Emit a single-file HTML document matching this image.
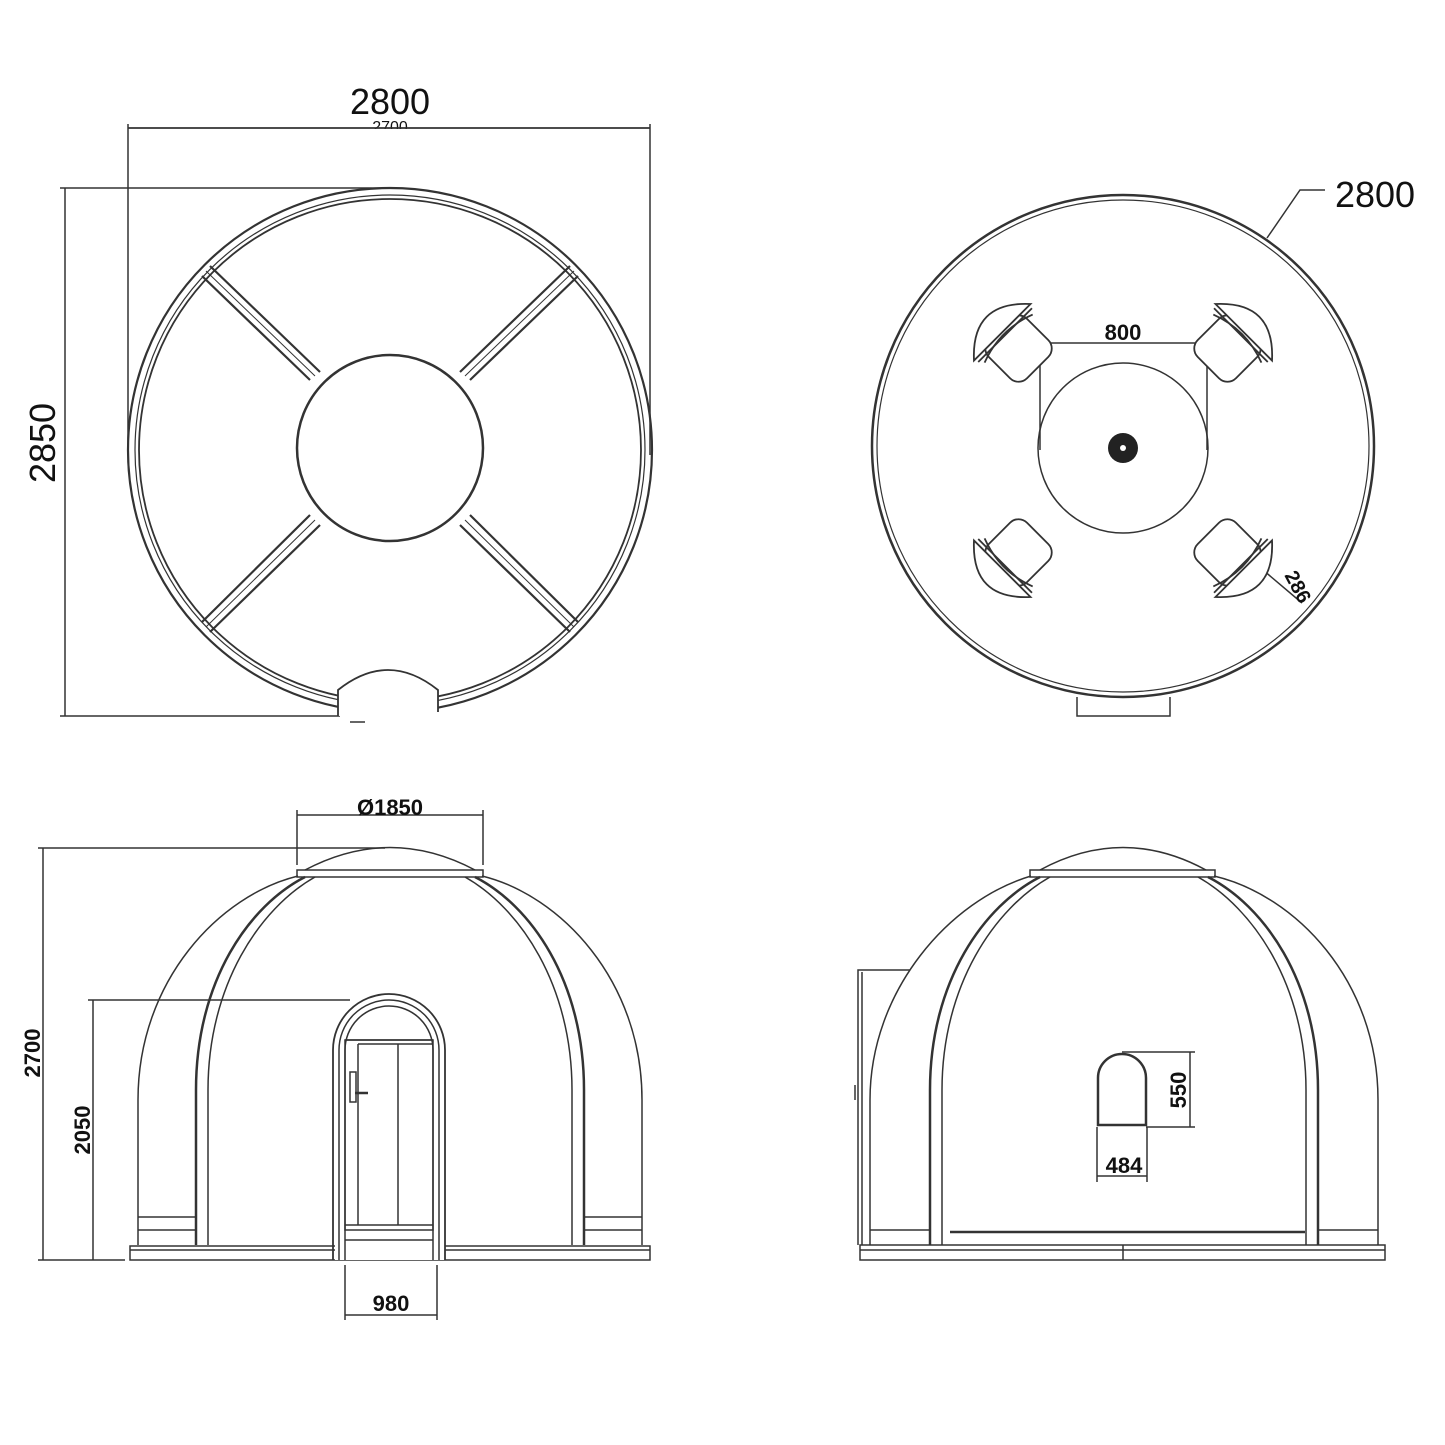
<!DOCTYPE html>
<html><head><meta charset="utf-8"><style>
html,body{margin:0;padding:0;background:#fff}
svg{display:block}
text{font-family:"Liberation Sans",sans-serif;fill:#111}
</style></head><body>
<svg width="1445" height="1445" viewBox="0 0 1445 1445" xmlns="http://www.w3.org/2000/svg">
<defs>
<g id="chair" fill="#fff" stroke="#333" stroke-width="1.8">
<rect x="-27" y="-22" width="54" height="54" rx="12"/>
<path d="M-40,-18 Q0,-62 40,-18 Z"/>
<path d="M-38,-14 L38,-14" />
<path d="M-34,-9 Q0,-22 34,-9" fill="none"/>
</g>
</defs>
<g fill="none" stroke="#333" stroke-width="1.5">
<!-- ===== Top-left plan ===== -->
<line x1="128" y1="128" x2="650" y2="128"/>
<line x1="128" y1="124" x2="128" y2="455"/>
<line x1="650" y1="124" x2="650" y2="455"/>
<line x1="65" y1="188" x2="65" y2="716"/>
<line x1="60" y1="188" x2="385" y2="188"/>
<line x1="60" y1="716" x2="340" y2="716"/>
<ellipse cx="390" cy="450" rx="262" ry="262" stroke-width="2.2"/>
<ellipse cx="390" cy="450" rx="255" ry="255" stroke-width="1.2"/>
<ellipse cx="390" cy="450" rx="251" ry="251" stroke-width="1.8"/>
<circle cx="390" cy="448" r="93" stroke-width="2.5"/>
<g stroke-width="2.2">
<line x1="210" y1="266" x2="320" y2="372"/><line x1="202" y1="276" x2="310" y2="380"/>
<line x1="570" y1="266" x2="460" y2="372"/><line x1="578" y1="276" x2="470" y2="380"/>
<line x1="210" y1="632" x2="320" y2="525"/><line x1="202" y1="622" x2="310" y2="515"/>
<line x1="570" y1="632" x2="460" y2="525"/><line x1="578" y1="622" x2="470" y2="515"/>
</g>
<g stroke-width="1">
<line x1="206" y1="271" x2="315" y2="376"/>
<line x1="574" y1="271" x2="465" y2="376"/>
<line x1="206" y1="627" x2="315" y2="520"/>
<line x1="574" y1="627" x2="465" y2="520"/>
</g>
<path d="M338,716 L338,690 Q388,650 438,690 L438,712" fill="#fff" stroke-width="1.8"/>
<line x1="350" y1="722" x2="365" y2="722"/>

<!-- ===== Top-right plan ===== -->
<circle cx="1123" cy="446" r="251" stroke-width="2.5"/>
<circle cx="1123" cy="446" r="246" stroke-width="1.2"/>
<circle cx="1123" cy="448" r="85" stroke-width="1.5"/>
<path d="M1077,697 L1077,716 L1170,716 L1170,697" stroke-width="1.5"/>
<line x1="1040" y1="343" x2="1207" y2="343"/>
<line x1="1040" y1="336" x2="1040" y2="450"/>
<line x1="1207" y1="336" x2="1207" y2="450"/>
<path d="M1267,238 L1300,190 L1325,190"/>
<line x1="1263" y1="570" x2="1302" y2="603"/>
</g>
<circle cx="1123" cy="448" r="15" fill="#222"/>
<circle cx="1123" cy="448" r="3" fill="#fff"/>
<use href="#chair" transform="translate(1015,345) rotate(-45)"/>
<use href="#chair" transform="translate(1231,345) rotate(45)"/>
<use href="#chair" transform="translate(1015,556) rotate(-135)"/>
<use href="#chair" transform="translate(1231,556) rotate(135)"/>

<g fill="none" stroke="#333" stroke-width="1.5">
<!-- ===== Bottom-left elevation ===== -->
<line x1="297" y1="815" x2="483" y2="815"/>
<line x1="297" y1="810" x2="297" y2="865"/>
<line x1="483" y1="810" x2="483" y2="865"/>
<line x1="43" y1="848" x2="43" y2="1260"/>
<line x1="38" y1="848" x2="385" y2="848"/>
<line x1="93" y1="1000" x2="93" y2="1260"/>
<line x1="88" y1="1000" x2="350" y2="1000"/>
<line x1="38" y1="1260" x2="125" y2="1260"/>
<line x1="345" y1="1265" x2="345" y2="1320"/>
<line x1="437" y1="1265" x2="437" y2="1320"/>
<line x1="345" y1="1315" x2="437" y2="1315"/>
<path d="M305,870 Q390,825 475,870"/>
<rect x="297" y="870" width="186" height="7"/>
<path d="M138,1245 L138,1100 C138,980 220,895 298,876"/>
<path d="M642,1245 L642,1100 C642,980 560,895 482,876"/>
<path d="M196,1245 L196,1090 C196,980 250,905 305,877" stroke-width="2.5"/>
<path d="M208,1245 L208,1090 C208,985 260,908 315,877"/>
<path d="M584,1245 L584,1090 C584,980 530,905 475,877" stroke-width="2.5"/>
<path d="M572,1245 L572,1090 C572,985 520,908 465,877"/>
<path d="M138,1217 L196,1217 M138,1230 L196,1230 M584,1217 L642,1217 M584,1230 L642,1230"/>
<rect x="130" y="1246" width="520" height="14"/>
<line x1="130" y1="1250" x2="650" y2="1250"/>
<rect x="335" y="1240" width="110" height="20" fill="#fff" stroke="none"/>
<path d="M333,1260 L333,1050 A56,56 0 0 1 445,1050 L445,1260" stroke-width="1.8"/>
<path d="M339,1260 L339,1050 A50,50 0 0 1 439,1050 L439,1260"/>
<path d="M345,1260 L345,1050 A44,44 0 0 1 433,1050 L433,1260"/>
<line x1="345" y1="1040" x2="433" y2="1040"/>
<rect x="345" y="1040" width="88" height="190"/>
<line x1="358" y1="1044" x2="358" y2="1225"/>
<line x1="358" y1="1044" x2="433" y2="1044"/>
<line x1="398" y1="1044" x2="398" y2="1225"/>
<line x1="345" y1="1225" x2="433" y2="1225"/>
<line x1="345" y1="1240" x2="433" y2="1240"/>
<rect x="350" y="1072" width="6" height="30" fill="#fff"/>
<line x1="355" y1="1093" x2="368" y2="1093" stroke-width="2.5"/>

<!-- ===== Bottom-right elevation ===== -->
<path d="M1040,870 Q1123,825 1206,870"/>
<rect x="1030" y="870" width="185" height="7"/>
<path d="M870,1245 L870,1100 C870,990 950,900 1031,876"/>
<path d="M1378,1245 L1378,1100 C1378,980 1295,895 1214,876"/>
<path d="M930,1245 L930,1090 C930,980 985,905 1040,877" stroke-width="2.5"/>
<path d="M942,1245 L942,1090 C942,985 995,908 1050,877"/>
<path d="M1318,1245 L1318,1090 C1318,980 1263,905 1208,877" stroke-width="2.5"/>
<path d="M1306,1245 L1306,1090 C1306,985 1253,908 1198,877"/>
<path d="M858,1245 L858,970 L910,970"/>
<line x1="862" y1="972" x2="862" y2="1245"/>
<line x1="855" y1="1085" x2="855" y2="1100"/>
<path d="M870,1230 L930,1230 M1318,1230 L1378,1230"/>
<line x1="950" y1="1232" x2="1305" y2="1232" stroke-width="2.5"/>
<rect x="860" y="1245" width="525" height="15"/>
<line x1="860" y1="1250" x2="1385" y2="1250"/>
<line x1="1123" y1="1245" x2="1123" y2="1260"/>
<path d="M1098,1125 L1098,1078 A24,24 0 0 1 1146,1078 L1146,1125 Z" stroke-width="2.5"/>
<line x1="1122" y1="1052" x2="1195" y2="1052"/>
<line x1="1146" y1="1127" x2="1195" y2="1127"/>
<line x1="1190" y1="1052" x2="1190" y2="1127"/>
<line x1="1097" y1="1127" x2="1097" y2="1182"/>
<line x1="1147" y1="1127" x2="1147" y2="1182"/>
<line x1="1097" y1="1176" x2="1147" y2="1176"/>
</g>

<text x="390" y="114" font-size="36" text-anchor="middle">2800</text>
<text x="390" y="132" font-size="16" text-anchor="middle">2700</text>
<rect x="330" y="129" width="120" height="10" fill="#fff"/>
<line x1="128" y1="128" x2="650" y2="128" stroke="#333" stroke-width="1.5"/>
<text transform="translate(55,443) rotate(-90)" font-size="36" text-anchor="middle">2850</text>
<text x="1375" y="207" font-size="36" text-anchor="middle">2800</text>
<text x="1123" y="340" font-size="22" font-weight="bold" text-anchor="middle">800</text>
<text transform="translate(1292,590) rotate(62)" font-size="20" font-weight="bold" text-anchor="middle">286</text>
<text x="390" y="815" font-size="22" font-weight="bold" text-anchor="middle">Ø1850</text>
<text transform="translate(40,1053) rotate(-90)" font-size="22" font-weight="bold" text-anchor="middle">2700</text>
<text transform="translate(90,1130) rotate(-90)" font-size="22" font-weight="bold" text-anchor="middle">2050</text>
<text x="391" y="1311" font-size="22" font-weight="bold" text-anchor="middle">980</text>
<text transform="translate(1186,1090) rotate(-90)" font-size="22" font-weight="bold" text-anchor="middle">550</text>
<text x="1124" y="1173" font-size="22" font-weight="bold" text-anchor="middle">484</text>
</svg>
</body></html>
